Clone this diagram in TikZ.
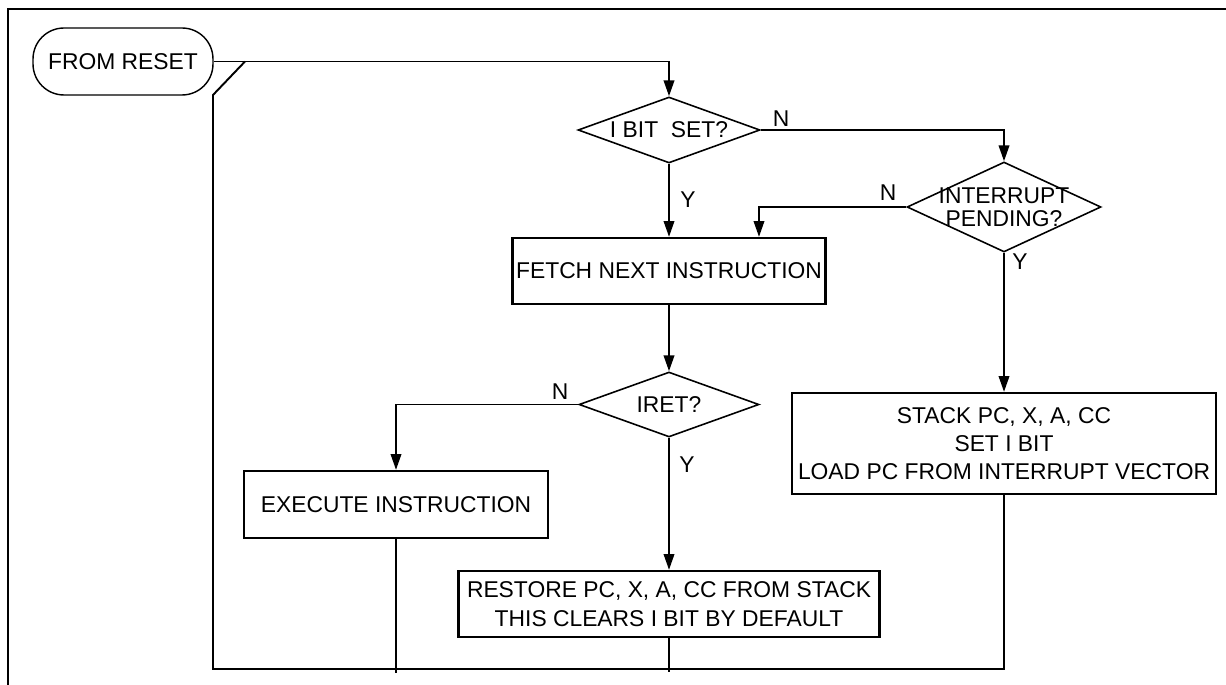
\documentclass[tikz,border=0pt]{standalone}
\usepackage{fontspec}
\setmainfont{Liberation Sans}
\usetikzlibrary{shapes.geometric,arrows.meta}

\begin{document}
\begin{tikzpicture}[x=0.02cm,y=-0.02cm,
  font=\fontsize{13}{15.9}\selectfont,
  line width=1.1pt,
  every node/.style={inner sep=0pt},
  proc/.style={draw,rectangle,line width=1.3pt,align=center},
  dec/.style={draw,diamond,line width=0.9pt,inner sep=0pt},
  arr/.style={-{Triangle[length=9pt,width=6pt]}}]
\useasboundingbox (0,0) rectangle (1226,685);
\draw [line width=0.6pt] (1226,9) -- (8,9) -- (8,685);
\node [draw,rectangle,rounded corners=0.62cm,line width=0.8pt,minimum width=3.6cm,minimum height=1.34cm] (reset) at (123,61.5) {FROM RESET};
\node [dec,minimum width=3.64cm,minimum height=1.32cm,label={center:I BIT~ SET?}] (ibit) at (669,130) {};
\node [dec,minimum width=3.88cm,minimum height=1.8cm,label={[align=center,font=\fontsize{13}{13}\selectfont]center:INTERRUPT\\PENDING?}] (intr) at (1004,207) {};
\node [proc,minimum width=6.26cm,minimum height=1.32cm] (fetch) at (669,271) {FETCH NEXT INSTRUCTION};
\node [dec,minimum width=3.6cm,minimum height=1.3cm,label={center:IRET?}] (iret) at (669,404.5) {};
\node [proc,minimum width=6.08cm,minimum height=1.34cm] (exec) at (396,504.5) {EXECUTE INSTRUCTION};
\node [proc,minimum width=8.48cm,minimum height=2.02cm] (stack) at (1004,443.5) {STACK PC, X, A, CC\\SET I BIT\\LOAD PC FROM INTERRUPT VECTOR};
\node [proc,minimum width=8.42cm,minimum height=1.32cm,font=\fontsize{13}{16.4}\selectfont] (restore) at (669,604) {RESTORE PC, X, A, CC FROM STACK\\THIS CLEARS I BIT BY DEFAULT};
\node (n1) at (781,119) {N};
\node (y1) at (688,200) {Y};
\node (n2) at (888,193) {N};
\node (y2) at (1020,262) {Y};
\node (n3) at (560,392) {N};
\node (y3) at (687,465) {Y};
\coordinate (jn) at (245,61.5);
\coordinate (kink) at (213,95);
\coordinate (loopl) at (213,669);
\draw [arr] (reset.east) -| (ibit.north);
\draw (stack.south) |- (loopl) -- (kink) -- (jn);
\draw [arr] (ibit.east) -| (intr.north);
\draw [arr] (ibit.south) -- (fetch.north);
\draw [arr] (intr.west) -| ([xshift=1.8cm]fetch.north);
\draw [arr] (intr.south) -- (stack.north);
\draw [arr] (fetch.south) -- (iret.north);
\draw [arr] (iret.west) -| (exec.north);
\draw [arr] (iret.south) -- (restore.north);
\draw [shorten >=-0.08cm] (exec.south) -- (exec.south |- loopl);
\draw [shorten >=-0.06cm] (restore.south) -- (restore.south |- loopl);
\end{tikzpicture}
\end{document}
